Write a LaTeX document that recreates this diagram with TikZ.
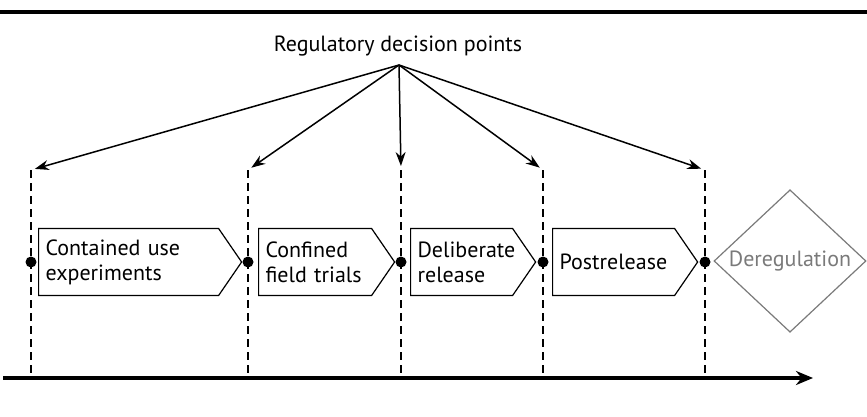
\documentclass[tikz,border=0pt]{standalone}
\usepackage{fontspec}
\setmainfont{PT Sans}
\usetikzlibrary{arrows.meta,positioning,shapes.geometric,shapes.symbols}
\usepackage{xcolor}
\definecolor{regrey}{HTML}{7A7A7A}

\begin{document}
\begin{tikzpicture}[
    x=1pt, y=-1pt,
    font=\fontsize{22}{25}\selectfont,
    stage/.style={draw=black, line width=1.2pt, shape=signal, signal to=east,
      signal pointer angle=111, align=left, anchor=west, inner sep=7pt,
      minimum height=67pt},
    endstate/.style={draw=regrey, line width=1.2pt, shape=diamond, text=regrey,
      inner sep=0pt, minimum width=152pt, minimum height=134pt},
    dot/.style={circle, fill=black, inner sep=0pt, minimum size=11pt},
    gate/.style={line width=2.4pt, dash pattern=on 8pt off 5pt},
    fanarrow/.style={-{Stealth[length=14pt, width=10pt]}, line width=1.5pt, shorten >=4pt},
    axis/.style={-{Stealth[length=17pt, width=14pt]}, line width=3.2pt}
  ]
    \useasboundingbox (0,0) rectangle (867,417);

    % top rule
    \coordinate (rl) at (0,12);
    \coordinate (rr) at (867,12);
    \draw[line width=3.6pt] (rl) -- (rr);

    % decision points
    \node (title) at (398,46) {Regulatory decision points};
    \coordinate (apex) at (399,65);

    \coordinate (t1) at (31,170);  \coordinate (b1) at (31,378);
    \coordinate (t2) at (248,170); \coordinate (b2) at (248,378);
    \coordinate (t3) at (401,170); \coordinate (b3) at (401,378);
    \coordinate (t4) at (543,170); \coordinate (b4) at (543,378);
    \coordinate (t5) at (705,170); \coordinate (b5) at (705,378);

    \draw[gate] (t1) -- (b1);
    \draw[gate] (t2) -- (b2);
    \draw[gate] (t3) -- (b3);
    \draw[gate] (t4) -- (b4);
    \draw[gate] (t5) -- (b5);

    \draw[fanarrow] (apex) -- (t1);
    \draw[fanarrow] (apex) -- (t2);
    \draw[fanarrow] (apex) -- (t3);
    \draw[fanarrow] (apex) -- (t4);
    \draw[fanarrow] (apex) -- (t5);

    % stages
    \node[stage, text width=166pt] (contained) at (38,262) {Contained use\\experiments};
    \node[stage, text width=99pt] (confined) at (258,262) {Confined\\field trials};
    \node[stage, text width=88pt] (deliberate) at (410,262) {Deliberate\\release};
    \node[stage, text width=108pt] (postrelease) at (552,262) {Postrelease};
    \node[endstate] (dereg) at (790,261) {Deregulation};

    \node[dot] (d1) at (31,262) {};
    \node[dot] (d2) at (248,262) {};
    \node[dot] (d3) at (401,262) {};
    \node[dot] (d4) at (543,262) {};
    \node[dot] (d5) at (705,262) {};

    % time axis
    \coordinate (axs) at (3,378);
    \coordinate (axe) at (813,378);
    \draw[axis] (axs) -- (axe);
  \end{tikzpicture}
\end{document}
